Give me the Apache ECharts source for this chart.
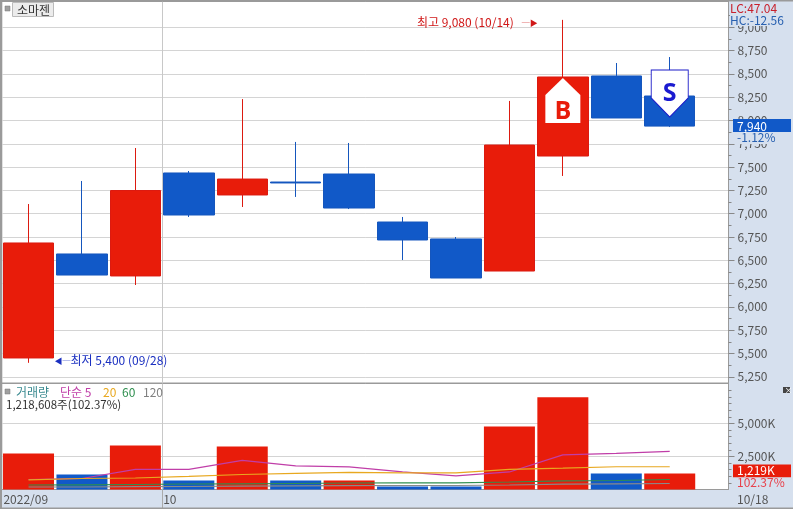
<!DOCTYPE html>
<html><head><meta charset="utf-8">
<style>html,body{margin:0;padding:0;background:#fff}#c{width:793px;height:509px}</style>
<script src="https://cdn.jsdelivr.net/npm/echarts@6/dist/echarts.min.js"></script>
</head><body><div id="c"></div>
<script>
// ---------- data ----------
const opens  = [5452,6568,6332,7437,7201,7340,7426,6911,6729,6385,7619,8478,8263];
const closes = [6686,6342,7249,6986,7372,7330,7061,6718,6310,7737,8467,8027,7940];
const lows   = [5400,6342,6235,6965,7072,7180,7050,6503,6310,6385,7405,8027,7930];
const highs  = [7104,7351,7705,7458,8230,7770,7759,6965,6750,8210,9080,8617,8681];
const volumes   = [2727,1136,3333,682,3258,682,682,227,227,4773,6970,1212,1219];
const volumeUp  = [1,0,1,0,1,0,1,0,0,1,1,0,1];
const ma5   = [758,833,1515,1515,2197,1780,1705,1326,1023,1326,2614,2727,2879];
const ma20  = [735,833,871,985,1136,1212,1288,1250,1250,1515,1614,1720,1720];
const ma60  = [341,356,379,417,432,455,492,508,508,568,659,682,758];
const ma120 = [189,189,212,227,250,273,288,303,303,341,402,432,455];
const priceTicks = [5250,5500,5750,6000,6250,6500,6750,7000,7250,7500,7750,8000,8250,8500,8750,9000];
const priceMinorTicks = [5375,5625,5875,6125,6375,6625,6875,7125,7375,7625,7875,8125,8375,8625,8875,9125];
const volumeTicks = [2500,5000];
const volumeMinorTicks = [500,1000,1500,2000,3000,3500,4000,4500,5500,6000,6500,7000,7500];
const monthLabels = ['2022/09','10'];
const monthBreak = 2.5;
const lastDateLabel = '10/18';
const stockName = '소마젠';
const highIdx = 10, lowIdx = 0, buyIdx = 10, sellIdx = 12;
const lastPrice = 7940, lastVolume = 1219;

// ---------- styles ----------
const RED='#e81c0a', BLUE='#1159c8', PANEL='#d6e0ee', GRID='#d4d4d4', EDGE='#9a9a9a', TXT='#555';
const FONT='"Noto Sans CJK KR","Liberation Sans",sans-serif';
const PMIN=5183.5, PMAX=9277, VMAX=8015;
const comma=v=>String(v).replace(/\B(?=(\d{3})+$)/g,',');
const idx=opens.map((_,i)=>i);
const line=(name,arr,color)=>({name,type:'line',xAxisIndex:1,yAxisIndex:1,data:arr.map((v,i)=>[i,v]),
  showSymbol:false,symbol:'none',lineStyle:{width:1.2,color},itemStyle:{color},z:4,silent:true});
const xBase={type:'value',min:-0.5,max:13.1,axisLine:{show:false,onZero:false},minorTick:{show:false},minorSplitLine:{show:false}};
const yMain=(gridIndex,max,ticks,fmt,min)=>({type:'value',gridIndex,position:'right',min,max,
  axisLine:{show:true,onZero:false,lineStyle:{color:EDGE}},
  axisTick:{show:true,length:6,customValues:ticks,lineStyle:{color:'#888'}},
  minorTick:{show:false},
  axisLabel:{margin:9,color:TXT,fontSize:12,fontFamily:FONT,customValues:ticks,formatter:fmt},
  splitLine:{show:true,lineStyle:{color:GRID,width:1}}});
const yMinor=(gridIndex,max,ticks,min)=>({type:'value',gridIndex,position:'right',min,max,
  axisLine:{show:false,onZero:false},
  axisTick:{show:true,length:3,customValues:ticks,lineStyle:{color:'#888'}},
  minorTick:{show:false},axisLabel:{show:false},splitLine:{show:false}});

const chart=echarts.init(document.getElementById('c'),null,{renderer:'canvas'});
chart.setOption({
  animation:false,backgroundColor:PANEL,
  grid:[
    {left:1.8,top:1.5,width:726.7,height:381.5,show:true,backgroundColor:'#fff',borderColor:EDGE,borderWidth:1},
    {left:1.8,top:383.5,width:726.7,height:106,show:true,backgroundColor:'#fff',borderColor:EDGE,borderWidth:1}
  ],
  xAxis:[
    {...xBase,gridIndex:0,axisLabel:{show:false},
      axisTick:{show:false,customValues:[monthBreak]},
      splitLine:{show:true,lineStyle:{color:'#c8c8c8',width:1}}},
    {...xBase,gridIndex:1,
      axisTick:{show:true,customValues:[monthBreak],length:19,lineStyle:{color:'#aaa'}},
      axisLabel:{show:true,customValues:[-0.47,monthBreak+0.02],hideOverlap:false,showMinLabel:true,
        formatter:v=>v<0?monthLabels[0]:monthLabels[1],
        align:'left',margin:4,color:TXT,fontSize:12,fontFamily:FONT},
      splitLine:{show:true,lineStyle:{color:'#c8c8c8',width:1}}}
  ],
  yAxis:[
    yMain(0,PMAX,priceTicks,v=>comma(v),PMIN),
    yMain(1,VMAX,volumeTicks,v=>comma(v)+'K',0),
    yMinor(0,PMAX,priceMinorTicks,PMIN),
    yMinor(1,VMAX,volumeMinorTicks,0)
  ],
  series:[
    {name:'가격',type:'candlestick',xAxisIndex:0,yAxisIndex:0,barWidth:51,z:3,
      encode:{x:0,y:[1,2,3,4]},
      data:idx.map(i=>[i,opens[i],closes[i],lows[i],highs[i]]),
      itemStyle:{color:RED,color0:BLUE,borderColor:'#dc1a10',borderColor0:'#1556bd',borderWidth:1},
      markPoint:{silent:true,animation:false,data:[
        {coord:[highIdx,highs[highIdx]],symbol:'circle',symbolSize:0,
          label:{show:true,position:'left',distance:25,offset:[0,3],
            formatter:'최고 '+comma(highs[highIdx])+' (10/14)   {a|─▶}',color:'#d01818',fontSize:12,fontFamily:FONT,
            rich:{a:{fontSize:8,color:'#d01818'}}}},
        {coord:[lowIdx,lows[lowIdx]],symbol:'circle',symbolSize:0,
          label:{show:true,position:'right',distance:26,offset:[0,-2],
            formatter:'{a|◀─}최저 '+comma(lows[lowIdx])+' (09/28)',color:'#1a2fc0',fontSize:12,fontFamily:FONT,
            rich:{a:{fontSize:8,color:'#1a2fc0'}}}},
        {coord:[buyIdx,closes[buyIdx]],symbol:'path://M17.5 0 L35 17 L35 45 L0 45 L0 17 Z',symbolKeepAspect:false,symbolSize:[35,45],symbolOffset:[0,23.5],
          itemStyle:{color:'#fff',borderColor:'#fff',borderWidth:0},
          label:{show:true,position:'inside',offset:[0,11],formatter:'B',color:RED,fontSize:25,fontWeight:'bold',fontFamily:'"Open Sans",sans-serif'}},
        {coord:[sellIdx,highs[sellIdx]],symbol:'path://M0 0 L37 0 L37 28 L18.5 47 L0 28 Z',symbolKeepAspect:false,symbolSize:[37,47],symbolOffset:[0,36.5],
          itemStyle:{color:'#fff',borderColor:'#1a1ac8',borderWidth:1},
          label:{show:true,position:'inside',offset:[0,0],formatter:'S',color:'#1a1ad0',fontSize:25,fontWeight:'bold',fontFamily:'"Open Sans",sans-serif'}}
      ]}},
    {name:'거래량',type:'bar',xAxisIndex:1,yAxisIndex:1,barWidth:51,z:3,
      data:idx.map(i=>({value:[i,volumes[i]],itemStyle:{color:volumeUp[i]?RED:BLUE}}))},
    line('5',ma5,'#c03ea8'),
    line('20',ma20,'#e8a820'),
    line('60',ma60,'#2f8f4f'),
    line('120',ma120,'#8a8a8a')
  ]
});

// overlays whose heights come from the axes
const py=v=>chart.convertToPixel({yAxisIndex:0},v);
const vy=v=>chart.convertToPixel({yAxisIndex:1},v);
const T=(x,y,text,fill,extra={})=>({type:'text',z:50,x,y,style:{text,fill,font:'12px '+FONT,textVerticalAlign:'middle',...extra}});
const R=(x,y,w,h,fill,extra={})=>({type:'rect',z:49,shape:{x,y,width:w,height:h},style:{fill,...extra}});
const LEG=[['거래량',16,'#3a8a90'],['단순 5',60,'#c03ea8'],['20',103,'#e8a820'],['60',122,'#2f8f4f'],['120',143,'#808080']];
const pY=py(lastPrice), vY=vy(lastVolume);
chart.setOption({graphic:{elements:[
  R(0,0,793,1.5,EDGE), R(0,0,2,509,EDGE), R(0,507.5,793,1.5,EDGE),
  R(5,6,5,5,'#a0a0a0',{stroke:'#777',lineWidth:0.5}),
  R(12.5,2.5,41,14,'#ececec',{stroke:'#bbb',lineWidth:1}),
  T(17,10,stockName,'#333'),
  R(730,2,62,12,PANEL), T(730,8,'LC:47.04','#c8202c'),
  R(730,14,62,12,PANEL), T(730,20,'HC:-12.56','#2860b0'),
  R(733,pY-7,58,13,BLUE), T(737,pY,comma(lastPrice),'#fff'),
  R(733,pY+6,58,12,PANEL), T(737,pY+11.5,'-1.12%','#2860b0'),
  R(5,389,5,5,'#a0a0a0',{stroke:'#777',lineWidth:0.5}),
  ...LEG.map(l=>T(l[1],392.5,l[0],l[2])),
  T(6,405,'1,218,608주(102.37%)','#333',{font:'11.5px '+FONT}),
  R(783,387,7,6,'#444'), T(784.5,390,'×','#fff',{font:'8px '+FONT}),
  R(733,vY-9,58,13,RED), T(737,vY-2.5,comma(lastVolume)+'K','#fff'),
  R(733,vY+4,58,11,PANEL), T(737,vY+9,'102.37%','#e8404a'),
  T(737,499,lastDateLabel,TXT)
]}});
</script></body></html>
